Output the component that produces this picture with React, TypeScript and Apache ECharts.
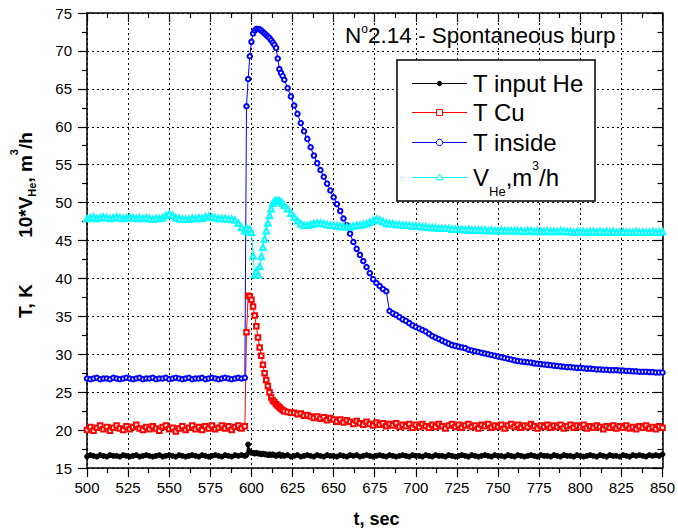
import React, { useEffect, useRef } from "react";
import * as echarts from "echarts";

// Logger sampling: 2 s before and after the event, 1 s through the burst itself.
const SAMPLING: [number, number, number][] = [
  [500, 596, 2],
  [597, 620, 1],
  [622, 850, 2],
];

// T input He, K
const HE_IN_PRE = [
  16.5, 16.7, 16.6, 16.5, 16.7, 16.6, 16.5, 16.7, 16.6, 16.6,
  16.5, 16.7, 16.6, 16.5, 16.6, 16.7, 16.5, 16.6, 16.7, 16.6,
  16.5, 16.6, 16.7, 16.5, 16.6, 16.7, 16.6, 16.5, 16.7, 16.6,
  16.5, 16.6, 16.7, 16.6, 16.5, 16.7, 16.6, 16.5, 16.6, 16.7,
  16.6, 16.5, 16.7, 16.6, 16.5, 16.7, 16.6, 16.7, 16.6,
];
const HE_IN_BURST = [
  16.7, 18.1, 17.2, 17.0, 17.0, 16.9, 17.0, 16.9, 16.9, 16.8,
  16.9, 16.8, 16.8, 16.7, 16.8, 16.7, 16.8, 16.7, 16.6, 16.7,
  16.8, 16.6, 16.7, 16.6,
];
const HE_IN_POST = [
  16.7, 16.5, 16.6, 16.7, 16.5, 16.6, 16.7, 16.6, 16.5, 16.7,
  16.6, 16.5, 16.7, 16.6, 16.6, 16.5, 16.7, 16.6, 16.5, 16.7,
  16.6, 16.7, 16.5, 16.6, 16.7, 16.6, 16.5, 16.6, 16.7, 16.6,
  16.5, 16.7, 16.6, 16.5, 16.6, 16.7, 16.6, 16.5, 16.7, 16.6,
  16.6, 16.5, 16.7, 16.6, 16.5, 16.7, 16.6, 16.6, 16.5, 16.7,
  16.6, 16.5, 16.6, 16.7, 16.6, 16.5, 16.7, 16.6, 16.5, 16.6,
  16.7, 16.6, 16.5, 16.7, 16.6, 16.6, 16.5, 16.7, 16.6, 16.5,
  16.7, 16.6, 16.5, 16.6, 16.7, 16.6, 16.5, 16.7, 16.6, 16.6,
  16.5, 16.7, 16.6, 16.5, 16.7, 16.6, 16.6, 16.5, 16.7, 16.6,
  16.5, 16.6, 16.7, 16.6, 16.5, 16.7, 16.6, 16.5, 16.7, 16.6,
  16.6, 16.5, 16.7, 16.6, 16.5, 16.7, 16.6, 16.7, 16.6, 16.5,
  16.7, 16.6, 16.7, 16.6, 16.8,
];

// T Cu, K
const CU_PRE = [
  20.0, 20.4, 19.9, 20.3, 20.6, 20.1, 20.4, 19.9, 20.3, 20.6,
  20.2, 20.0, 20.5, 20.1, 20.4, 20.7, 20.2, 20.0, 20.4, 20.1,
  20.5, 20.2, 19.9, 20.4, 20.6, 20.1, 20.3, 19.8, 20.2, 20.5,
  20.0, 20.3, 20.6, 20.1, 20.4, 20.0, 20.5, 20.2, 20.6, 20.1,
  20.3, 20.6, 20.2, 20.5, 20.0, 20.4, 20.6, 20.2, 20.5,
];
const CU_BURST = [
  32.9, 37.7, 37.6, 37.2, 36.3, 35.1, 33.7, 32.2, 30.9, 29.8,
  28.6, 27.5, 26.6, 25.8, 25.0, 24.3, 23.9, 23.7, 23.4, 23.2,
  23.0, 22.8, 22.6, 22.5,
];
const CU_POST = [
  22.4, 22.3, 22.3, 22.1, 22.2, 21.9, 22.0, 21.8, 21.6, 21.8,
  21.5, 21.7, 21.3, 21.6, 21.4, 21.1, 21.4, 21.0, 21.3, 21.1,
  20.8, 21.2, 20.9, 20.7, 21.1, 20.8, 20.6, 21.0, 20.7, 20.9,
  20.5, 20.8, 20.6, 20.9, 20.4, 20.7, 20.5, 20.8, 20.3, 20.7,
  20.4, 20.8, 20.5, 20.3, 20.7, 20.4, 20.8, 20.5, 20.2, 20.6,
  20.8, 20.4, 20.7, 20.3, 20.6, 20.8, 20.4, 20.6, 20.2, 20.7,
  20.5, 20.8, 20.3, 20.6, 20.4, 20.7, 20.2, 20.6, 20.8, 20.4,
  20.7, 20.3, 20.6, 20.4, 20.8, 20.5, 20.2, 20.6, 20.4, 20.7,
  20.3, 20.6, 20.4, 20.7, 20.2, 20.5, 20.7, 20.3, 20.6, 20.4,
  20.7, 20.2, 20.5, 20.3, 20.6, 20.4, 20.1, 20.5, 20.3, 20.6,
  20.2, 20.5, 20.3, 20.6, 20.2, 20.4, 20.1, 20.5, 20.3, 20.6,
  20.2, 20.4, 20.1, 20.5, 20.3,
];

// T inside, K
const INSIDE_PRE = [
  26.8, 26.7, 26.8, 26.9, 26.7, 26.8, 26.8, 26.7, 26.9, 26.8,
  26.7, 26.8, 26.9, 26.8, 26.7, 26.8, 26.9, 26.7, 26.8, 26.8,
  26.9, 26.7, 26.8, 26.8, 26.9, 26.7, 26.8, 26.9, 26.8, 26.7,
  26.8, 26.9, 26.7, 26.8, 26.8, 26.9, 26.7, 26.8, 26.9, 26.8,
  26.7, 26.8, 26.9, 26.8, 26.7, 26.8, 26.9, 26.8, 26.9,
];
const INSIDE_BURST = [
  62.7, 66.3, 69.3, 71.2, 72.3, 72.7, 72.9, 72.9, 72.85, 72.7,
  72.5, 72.3, 72.1, 71.9, 71.7, 71.4, 71.1, 70.8, 70.4, 69.0,
  67.6, 67.1, 66.7, 66.2,
];
const INSIDE_POST = [
  65.1, 64.0, 62.8, 61.7, 60.5, 59.4, 58.4, 57.3, 56.2, 55.2,
  54.3, 53.4, 52.5, 51.6, 50.7, 49.8, 48.9, 47.9, 47.0, 45.9,
  44.8, 43.9, 43.1, 42.3, 41.5, 40.7, 39.9, 39.4, 39.0, 38.6,
  38.3, 35.7, 35.4, 35.2, 34.9, 34.6, 34.4, 34.1, 33.8, 33.6,
  33.4, 33.2, 33.0, 32.7, 32.4, 32.2, 32.0, 31.8, 31.6, 31.4,
  31.2, 31.1, 31.0, 30.9, 30.8, 30.6, 30.5, 30.4, 30.3, 30.2,
  30.1, 30.0, 29.9, 29.8, 29.7, 29.6, 29.5, 29.4, 29.3, 29.2,
  29.1, 29.05, 29.0, 28.95, 28.9, 28.8, 28.75, 28.7, 28.65, 28.6,
  28.55, 28.5, 28.45, 28.4, 28.35, 28.3, 28.3, 28.25, 28.2, 28.2,
  28.15, 28.1, 28.1, 28.05, 28.0, 28.0, 27.95, 27.95, 27.9, 27.9,
  27.9, 27.85, 27.85, 27.8, 27.8, 27.75, 27.75, 27.7, 27.7, 27.7,
  27.65, 27.65, 27.6, 27.6, 27.6,
];

// 10 * V_He, m3/h
const FLOW_PRE = [
  47.9, 48.0, 48.1, 47.9, 48.0, 48.1, 48.0, 47.9, 48.0, 48.1,
  48.0, 47.9, 48.0, 48.1, 48.0, 47.9, 48.0, 47.9, 48.0, 47.9,
  47.8, 47.9, 47.9, 48.0, 48.3, 48.5, 48.3, 48.0, 47.9, 47.8,
  47.8, 47.8, 47.9, 47.9, 48.0, 47.9, 48.1, 48.2, 48.1, 48.0,
  47.9, 47.9, 47.9, 47.8, 47.8, 47.7, 47.3, 46.7, 46.3,
];
const FLOW_BURST = [
  46.6, 46.2, 46.5, 46.1, 43.0, 40.5, 40.9, 40.5, 41.6, 42.9,
  44.1, 45.2, 46.3, 47.3, 48.3, 49.2, 49.9, 50.2, 50.2, 50.2,
  50.2, 50.1, 49.9, 49.6,
];
const FLOW_POST = [
  49.2, 48.6, 48.1, 47.6, 47.2, 47.0, 47.0, 47.1, 47.2, 47.3,
  47.3, 47.2, 47.1, 47.0, 47.0, 46.9, 46.9, 46.8, 46.8, 46.8,
  46.9, 47.0, 47.0, 47.1, 47.2, 47.4, 47.6, 47.8, 47.7, 47.5,
  47.3, 47.2, 47.2, 47.1, 47.1, 47.0, 47.0, 47.0, 46.9, 46.9,
  46.9, 46.8, 46.8, 46.7, 46.7, 46.7, 46.6, 46.6, 46.6, 46.6,
  46.5, 46.5, 46.5, 46.5, 46.4, 46.5, 46.4, 46.4, 46.4, 46.4,
  46.4, 46.3, 46.4, 46.3, 46.3, 46.4, 46.3, 46.3, 46.3, 46.3,
  46.3, 46.3, 46.2, 46.3, 46.3, 46.2, 46.3, 46.2, 46.2, 46.3,
  46.2, 46.2, 46.2, 46.3, 46.2, 46.2, 46.2, 46.1, 46.2, 46.2,
  46.2, 46.1, 46.2, 46.2, 46.1, 46.2, 46.1, 46.2, 46.1, 46.2,
  46.1, 46.1, 46.2, 46.1, 46.1, 46.1, 46.2, 46.1, 46.1, 46.1,
  46.1, 46.2, 46.1, 46.1, 46.2,
];

const X_TICKS = { min: 500, max: 850, step: 25 };
const Y_TICKS = { min: 15, max: 75, step: 5 };

const FAMILY = '"Liberation Sans", Arial, Helvetica, sans-serif';

function sampleTimes(): number[] {
  const out: number[] = [];
  for (const [from, to, step] of SAMPLING) {
    for (let t = from; t <= to; t += step) out.push(t);
  }
  return out;
}

function pairs(times: number[], values: number[]): [number, number][] {
  const n = Math.min(times.length, values.length);
  const out: [number, number][] = [];
  for (let i = 0; i < n; i++) out.push([times[i], values[i]]);
  return out;
}

let measureCtx: CanvasRenderingContext2D | null = null;
function textWidth(text: string, size: number, bold = false): number {
  if (!measureCtx) measureCtx = document.createElement("canvas").getContext("2d");
  if (!measureCtx) return text.length * size * 0.55;
  measureCtx.font = `${bold ? "bold " : ""}${size}px ${FAMILY}`;
  return measureCtx.measureText(text).width;
}

// A run of text pieces laid left to right, each with its own size and baseline shift.
type Piece = { text: string; size: number; dy: number };
function textRun(pieces: Piece[], x0: number, y0: number, bold: boolean, z = 52): any[] {
  const els: any[] = [];
  let x = x0;
  for (const p of pieces) {
    els.push({
      type: "text",
      z,
      x,
      y: y0 + p.dy,
      style: {
        text: p.text,
        fontSize: p.size,
        fontWeight: bold ? "bold" : "normal",
        fontFamily: FAMILY,
        fill: "#000",
        align: "left",
        verticalAlign: "middle",
      },
    });
    x += textWidth(p.text, p.size, bold);
  }
  return els;
}

function runLength(pieces: Piece[], bold: boolean): number {
  return pieces.reduce((s, p) => s + textWidth(p.text, p.size, bold), 0);
}

const GRID = { left: 87, right: 12, top: 13, bottom: 64 };

function frameAxis(kind: "x" | "y", position: string, outer: boolean) {
  const r = kind === "x" ? X_TICKS : Y_TICKS;
  return {
    type: "value",
    position,
    min: r.min,
    max: r.max,
    interval: r.step,
    axisLine: { show: true, onZero: false, lineStyle: { color: "#000", width: 1.5 } },
    axisTick: {
      show: true,
      inside: !outer,
      length: 9,
      lineStyle: { color: "#000", width: 1.2 },
    },
    minorTick: {
      show: true,
      splitNumber: 2,
      length: 5,
      lineStyle: { color: "#000", width: 1.2 },
    },
    axisLabel: outer
      ? {
          show: true,
          color: "#000",
          fontSize: 15,
          fontFamily: FAMILY,
          margin: kind === "x" ? 12 : 15,
        }
      : { show: false },
    splitLine: outer
      ? { show: true, lineStyle: { color: "#000", width: 1, type: [2, 3] } }
      : { show: false },
    minorSplitLine: { show: false },
  };
}

export default function App() {
  const ref = useRef<HTMLDivElement>(null);

  useEffect(() => {
    if (!ref.current) return;
    const chart = echarts.init(ref.current, null, { renderer: "svg" });
    const t = sampleTimes();

    const heIn = pairs(t, [...HE_IN_PRE, ...HE_IN_BURST, ...HE_IN_POST]);
    const cu = pairs(t, [...CU_PRE, ...CU_BURST, ...CU_POST]);
    const inside = pairs(t, [...INSIDE_PRE, ...INSIDE_BURST, ...INSIDE_POST]);
    const flow = pairs(t, [...FLOW_PRE, ...FLOW_BURST, ...FLOW_POST]);

    // Legend box, drawn by hand so the V_He entry can carry sub/superscripts.
    const legendRows = [
      { y: 83.5, color: "#000000", marker: "dot", label: "T input He" },
      { y: 112.5, color: "#ff0000", marker: "square", label: "T Cu" },
      { y: 142.5, color: "#0000ff", marker: "circle", label: "T inside" },
      { y: 177.5, color: "#00ffff", marker: "triangle", label: "" },
    ];
    const LX = 412;
    const LW = 55;
    const MX = LX + LW / 2;

    const legendEls: any[] = [
      {
        type: "rect",
        z: 50,
        shape: { x: 397, y: 60, width: 198, height: 141 },
        style: { fill: "#fff", stroke: "#000", lineWidth: 1.5 },
      },
    ];
    for (const row of legendRows) {
      legendEls.push({
        type: "line",
        z: 51,
        shape: { x1: LX, y1: row.y, x2: LX + LW, y2: row.y },
        style: { stroke: row.color, lineWidth: 1.2 },
      });
      if (row.marker === "dot") {
        legendEls.push({
          type: "circle",
          z: 52,
          shape: { cx: MX, cy: row.y, r: 2.6 },
          style: { fill: row.color },
        });
      } else if (row.marker === "square") {
        legendEls.push({
          type: "rect",
          z: 52,
          shape: { x: MX - 3, y: row.y - 3, width: 6, height: 6 },
          style: { fill: "#fff", stroke: row.color, lineWidth: 1 },
        });
      } else if (row.marker === "circle") {
        legendEls.push({
          type: "circle",
          z: 52,
          shape: { cx: MX, cy: row.y, r: 3.2 },
          style: { fill: "#fff", stroke: row.color, lineWidth: 1 },
        });
      } else {
        legendEls.push({
          type: "polygon",
          z: 52,
          shape: {
            points: [
              [MX, row.y - 3.5],
              [MX + 3.5, row.y + 2.5],
              [MX - 3.5, row.y + 2.5],
            ],
          },
          style: { fill: "#fff", stroke: row.color, lineWidth: 1 },
        });
      }
      if (row.label) {
        legendEls.push(...textRun([{ text: row.label, size: 24, dy: 0 }], 473, row.y, false));
      }
    }
    legendEls.push(
      ...textRun(
        [
          { text: "V", size: 24, dy: 0 },
          { text: "He", size: 13, dy: 14 },
          { text: ",m", size: 24, dy: 0 },
          { text: "3", size: 12, dy: -11.5 },
          { text: "/h", size: 24, dy: 0 },
        ],
        473,
        177.5,
        false
      )
    );

    // Title inside the plot
    const titleEls = textRun(
      [
        { text: "N", size: 22.5, dy: 0 },
        { text: "o", size: 12, dy: -6 },
        { text: "2.14 - Spontaneous burp", size: 22.5, dy: 0 },
      ],
      345,
      35,
      false,
      40
    );

    // Vertical axis title, reading bottom to top
    const yTitlePieces: Piece[] = [
      { text: "10*V", size: 19, dy: 0 },
      { text: "He", size: 11, dy: 6.5 },
      { text: ", m", size: 19, dy: 0 },
      { text: "3", size: 11, dy: -11 },
      { text: "/h", size: 19, dy: 0 },
    ];
    const yTitleLen = runLength(yTitlePieces, true);
    const yTitleGroup = {
      type: "group",
      x: 25,
      y: 185 + yTitleLen / 2,
      rotation: Math.PI / 2,
      children: textRun(yTitlePieces, 0, 0, true, 40),
    };

    const textEls: any[] = [
      ...titleEls,
      {
        type: "text",
        x: 376.5,
        y: 519,
        style: {
          text: "t, sec",
          fontSize: 18,
          fontWeight: "bold",
          fontFamily: FAMILY,
          fill: "#000",
          align: "center",
          verticalAlign: "middle",
        },
      },
      {
        type: "text",
        x: 25,
        y: 301,
        rotation: Math.PI / 2,
        style: {
          text: "T, K",
          fontSize: 19,
          fontWeight: "bold",
          fontFamily: FAMILY,
          fill: "#000",
          align: "center",
          verticalAlign: "middle",
        },
      },
      yTitleGroup,
    ];

    const lineSeries = (name: string, data: [number, number][], color: string, symbol: string, size: number, lw = 1) => ({
      type: "line",
      name,
      data,
      xAxisIndex: 0,
      yAxisIndex: 0,
      symbol,
      symbolSize: size,
      showSymbol: true,
      clip: true,
      silent: true,
      lineStyle: { color, width: lw },
      itemStyle: { color, borderColor: color, borderWidth: 0.9 },
    });

    chart.setOption({
      animation: false,
      backgroundColor: "#fff",
      grid: { ...GRID, containLabel: false },
      xAxis: [frameAxis("x", "bottom", true), frameAxis("x", "top", false)],
      yAxis: [frameAxis("y", "left", true), frameAxis("y", "right", false)],
      series: [
        lineSeries("T input He", heIn, "#000000", "circle", 5, 1.5),
        lineSeries("T Cu", cu, "#ff0000", "emptyRect", 4.5),
        lineSeries("T inside", inside, "#0000ff", "emptyCircle", 4.5),
        lineSeries("V_He", flow, "#00ffff", "emptyTriangle", 5.5),
      ],
      graphic: [...textEls, ...legendEls],
    });

    return () => chart.dispose();
  }, []);

  return (
    <div
      ref={ref}
      style={{ position: "fixed", left: 0, top: 0, width: 678, height: 532, background: "#fff" }}
    />
  );
}
